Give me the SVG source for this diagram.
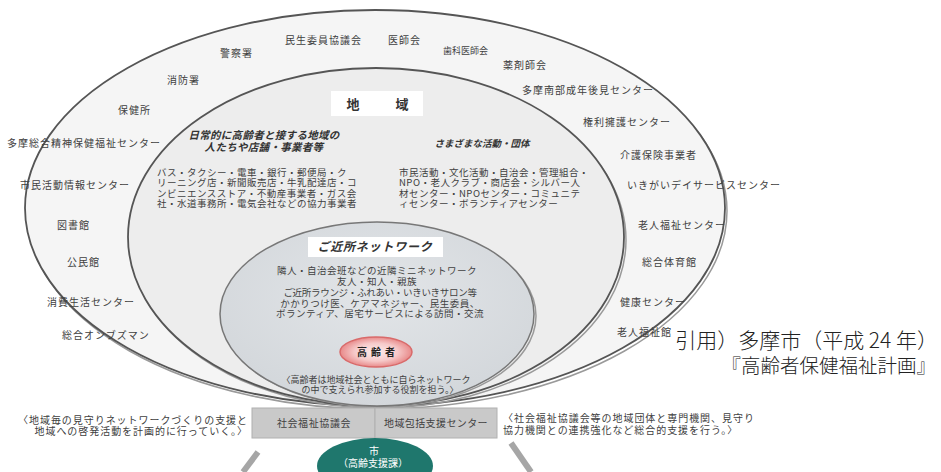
<svg xmlns="http://www.w3.org/2000/svg" width="941" height="472" viewBox="0 0 941 472">
<defs>
<style>
text{font-family:"Noto Sans CJK JP","Noto Sans CJK SC",sans-serif;fill:#404040}
.lbl{font-size:10px;letter-spacing:1px}
.body{font-size:9.5px;letter-spacing:0.5px}
.hd{font-size:10.5px;font-weight:bold;font-style:italic;letter-spacing:0.3px;fill:#333}
.sm{font-size:9px}
.cap{font-size:10px;letter-spacing:0.95px}
.cite{fill:#222;font-weight:300}
.ring{stroke:#555;stroke-width:1.8}
.shadow{fill:none;stroke:#9a9a9a;stroke-width:1.5}
.stub{stroke:#a6a6a6;stroke-width:6;stroke-linecap:butt;fill:none}
</style>
<radialGradient id="pink" cx="50%" cy="50%" r="50%">
<stop offset="0" stop-color="#fdeeee"/>
<stop offset="0.6" stop-color="#f6c9c9"/>
<stop offset="1" stop-color="#e88a8a"/>
</radialGradient>
<radialGradient id="inner" cx="50%" cy="40%" r="60%">
<stop offset="0" stop-color="#e2e5e8"/>
<stop offset="1" stop-color="#d3d7db"/>
</radialGradient>
</defs>

<g id="outer">
<ellipse cx="377" cy="211" rx="350" ry="198" class="shadow"/>
<ellipse cx="375" cy="208" rx="350" ry="198" fill="#f5f5f5" class="ring"/>
<text class="lbl" x="285" y="44">民生委員協議会</text>
<text class="lbl" x="388" y="44">医師会</text>
<text class="lbl" x="443" y="54" style="font-size:9px;letter-spacing:0">歯科医師会</text>
<text class="lbl" x="503" y="69">薬剤師会</text>
<text class="lbl" x="220" y="57">警察署</text>
<text class="lbl" x="167" y="84">消防署</text>
<text class="lbl" x="118" y="114">保健所</text>
<text class="lbl" x="7" y="147">多摩総合精神保健福祉センター</text>
<text class="lbl" x="20" y="189">市民活動情報センター</text>
<text class="lbl" x="57" y="229">図書館</text>
<text class="lbl" x="67" y="266">公民館</text>
<text class="lbl" x="47" y="306">消費生活センター</text>
<text class="lbl" x="62" y="339">総合オンブズマン</text>
<text class="lbl" x="522" y="94">多摩南部成年後見センター</text>
<text class="lbl" x="583" y="126">権利擁護センター</text>
<text class="lbl" x="620" y="159">介護保険事業者</text>
<text class="lbl" x="627" y="189">いきがいデイサービスセンター</text>
<text class="lbl" x="638" y="229">老人福祉センター</text>
<text class="lbl" x="642" y="266">総合体育館</text>
<text class="lbl" x="620" y="306">健康センター</text>
<text class="lbl" x="617" y="336">老人福祉館</text>
</g>

<g id="chiiki">
<ellipse cx="378" cy="240" rx="248" ry="168" class="shadow"/>
<ellipse cx="376" cy="237" rx="248" ry="169" fill="#ededed" class="ring"/>
<rect x="331" y="91" width="92" height="25" fill="#ffffff"/>
<text x="353" y="109" text-anchor="middle" style="font-size:13px;font-weight:bold;fill:#333">地</text>
<text x="402" y="109" text-anchor="middle" style="font-size:13px;font-weight:bold;fill:#333">域</text>
<text class="hd" x="264" y="139" text-anchor="middle">日常的に高齢者と接する地域の</text>
<text class="hd" x="264" y="151" text-anchor="middle">人たちや店舗・事業者等</text>
<text class="body" x="157" y="175.5">バス・タクシー・電車・銀行・郵便局・ク</text>
<text class="body" x="157" y="186">リーニング店・新聞販売店・牛乳配達店・コ</text>
<text class="body" x="157" y="196.5">ンビニエンスストア・不動産事業者・ガス会</text>
<text class="body" x="157" y="207">社・水道事務所・電気会社などの協力事業者</text>
<text class="hd" x="482" y="147" text-anchor="middle" style="font-size:9.5px;letter-spacing:0">さまざまな活動・団体</text>
<text class="body" x="399" y="175.5">市民活動・文化活動・自治会・管理組合・</text>
<text class="body" x="399" y="186">NPO・老人クラブ・商店会・シルバー人</text>
<text class="body" x="399" y="196.5">材センター・NPOセンター・コミュニテ</text>
<text class="body" x="399" y="207">ィセンター・ボランティアセンター</text>
</g>

<g id="gokinjo">
<ellipse cx="379" cy="316" rx="157" ry="91" class="shadow"/>
<ellipse cx="377" cy="314" rx="157" ry="92" fill="url(#inner)" stroke="#777" stroke-width="1.5"/>
<rect x="308" y="237" width="135" height="20" fill="#ffffff"/>
<text x="375" y="251" text-anchor="middle" style="font-size:12px;font-weight:bold;font-style:italic;letter-spacing:0.8px;fill:#333">ご近所ネットワーク</text>
<text class="body" x="377" y="274" text-anchor="middle">隣人・自治会班などの近隣ミニネットワーク</text>
<text class="body" x="377" y="284.5" text-anchor="middle">友人・知人・親族</text>
<text class="body" x="380" y="295.5" text-anchor="middle" style="letter-spacing:-0.3px">ご近所ラウンジ・ふれあい・いきいきサロン等</text>
<text class="body" x="380" y="306.5" text-anchor="middle">かかりつけ医、ケアマネジャー、民生委員、</text>
<text class="body" x="380" y="317" text-anchor="middle">ボランティア、居宅サービスによる訪問・交流</text>
<text class="sm" x="376" y="382.5" text-anchor="middle">〈高齢者は地域社会とともに自らネットワーク</text>
<text class="sm" x="380" y="393" text-anchor="middle">の中で支えられ参加する役割を担う。〉</text>
</g>

<g id="koureisha">
<ellipse cx="376" cy="352" rx="36" ry="15" fill="url(#pink)" stroke="#d96a6a" stroke-width="1.5"/>
<text x="378" y="356" text-anchor="middle" style="font-size:10px;font-weight:bold;letter-spacing:4px;fill:#222">高齢者</text>
</g>

<g id="shakyo">
<rect x="252" y="408" width="123" height="30" fill="#c9c9c9" stroke="#b0b0b0" stroke-width="1"/>
<text x="314" y="427" text-anchor="middle" style="font-size:10px;letter-spacing:0.6px">社会福祉協議会</text>
</g>
<g id="houkatsu">
<rect x="375" y="408" width="122" height="30" fill="#c9c9c9" stroke="#b0b0b0" stroke-width="1"/>
<text x="436" y="427" text-anchor="middle" style="font-size:10px;letter-spacing:0.4px">地域包括支援センター</text>
</g>

<g id="connectors">
<line class="stub" x1="258" y1="452" x2="243" y2="472"/>
<line class="stub" x1="511" y1="443" x2="531" y2="472"/>
</g>

<g id="shi">
<ellipse cx="375" cy="466" rx="58" ry="28" fill="#1f776d"/>
<text x="374" y="455" text-anchor="middle" style="font-size:10px;fill:#ffffff">市</text>
<text x="373" y="467" text-anchor="middle" style="font-size:10px;fill:#ffffff">（高齢支援課）</text>
</g>

<g id="captions">
<text class="cap" x="248" y="424" text-anchor="end">〈地域毎の見守りネットワークづくりの支援と</text>
<text class="cap" x="248" y="435" text-anchor="end">地域への啓発活動を計画的に行っていく。〉</text>
<text class="cap" x="503" y="422">〈社会福祉協議会等の地域団体と専門機関、見守り</text>
<text class="cap" x="503" y="433.5">協力機関との連携強化など総合的支援を行う。〉</text>
</g>

<g id="citation">
<text class="cite" x="938" y="348" text-anchor="end" style="font-size:21px">引用）多摩市（平成 24 年）</text>
<text class="cite" x="936" y="373" text-anchor="end" style="font-size:19.5px">『高齢者保健福祉計画』</text>
</g>
</svg>
